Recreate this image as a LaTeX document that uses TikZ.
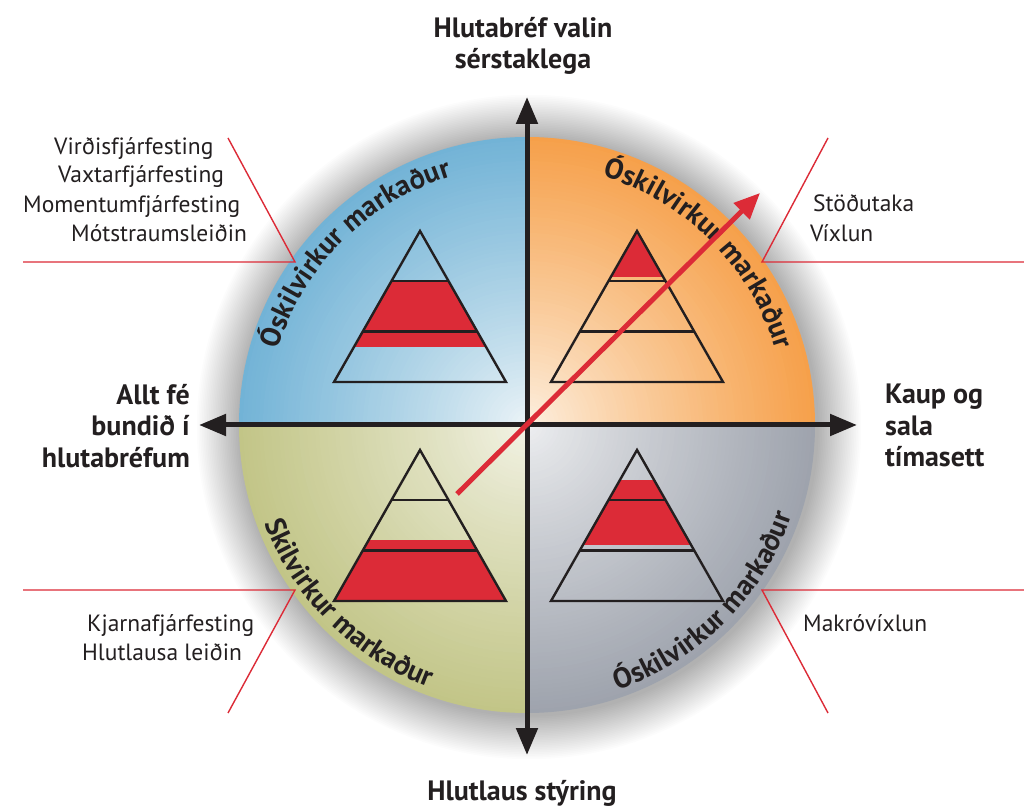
\documentclass[tikz,border=0pt]{standalone}
\usepackage{fontspec}
\setmainfont{PT Sans}
\usetikzlibrary{arrows.meta,decorations.text,calc}

\definecolor{inkdark}{HTML}{231F20}
\definecolor{markred}{HTML}{DC2B37}
\definecolor{blueout}{HTML}{72B3D6}
\definecolor{bluein}{HTML}{EEF5F8}
\definecolor{orangeout}{HTML}{F6A04A}
\definecolor{orangein}{HTML}{FDF2E4}
\definecolor{oliveout}{HTML}{C2C587}
\definecolor{olivein}{HTML}{F4F4E8}
\definecolor{greyout}{HTML}{9EA3AD}
\definecolor{greyin}{HTML}{EFF0F2}

\newcommand{\curvefont}{\fontsize{28.5}{28.5}\selectfont\bfseries\color{inkdark}}

\tikzset{
  axisline/.style={line width=5pt, draw=inkdark,
    {Triangle[length=27pt,width=21pt]}-{Triangle[length=27pt,width=21pt]}},
  leader/.style={draw=markred, line width=1.4pt},
  heading/.style={font=\fontsize{28}{31.5}\selectfont\bfseries, text=inkdark, inner sep=0pt},
  method/.style={font=\fontsize{23.5}{28}\selectfont, text=inkdark, inner sep=0pt, anchor=base west},
  tier/.style={draw=inkdark, line width=2.4pt},
  pics/pyramid/.style n args={2}{code={
     \begin{scope}
       \clip (0,0) -- (-86,-151) -- (86,-151) -- cycle;
       \fill[markred] (-100,#1) rectangle (100,#2);
       \draw[tier] (-100,-50.3) -- (100,-50.3);
       \draw[tier] (-100,-100.7) -- (100,-100.7);
     \end{scope}
     \draw[tier, line join=miter] (0,0) -- (-86,-151) -- (86,-151) -- cycle;
  }},
  arctext/.style={decorate, decoration={text along path, text align=center, text={|\curvefont|#1}}}
}

\begin{document}
\begin{tikzpicture}[x=1pt,y=1pt]
\useasboundingbox (0,0) rectangle (1024,811);
\fill[white] (0,0) rectangle (1024,811);
\coordinate (C) at (527,386);

% soft shadow around the disc
\foreach \k in {1,...,26}
  \fill[black, opacity=0.011] ($(C)+(2,-2)$) circle ({288+1.7*\k});

% four quadrants, each a radial colour ramp
\foreach \qa/\qout/\qin in {0/orangeout/orangein, 90/blueout/bluein, 180/oliveout/olivein, 270/greyout/greyin} {
  \pgfmathsetmacro{\qb}{\qa+90}
  \begin{scope}
    \clip (C) -- ++(\qa:300) arc[start angle=\qa, end angle=\qb, radius=300] -- cycle;
    \foreach \i in {0,...,71} {
      \pgfmathsetmacro{\rr}{288*(1-\i/72)}
      \pgfmathtruncatemacro{\pp}{100*(1-\i/72)^0.85}
      \fill[\qout!\pp!\qin] (C) circle (\rr);
    }
  \end{scope}
}

% market labels along the rim
\path[arctext={Óskilvirkur markaður}] ($(C)+(175:260)$) arc[start angle=175, end angle=95, radius=260];
\path[arctext={Óskilvirkur markaður}] ($(C)+(85:260)$) arc[start angle=85, end angle=5, radius=260];
\path[arctext={Skilvirkur markaður}] ($(C)+(185:280)$) arc[start angle=185, end angle=265, radius=280];
\path[arctext={Óskilvirkur markaður}] ($(C)+(-85:280)$) arc[start angle=-85, end angle=-5, radius=280];

% allocation pyramids
\pic at (420,580) {pyramid={-51}{-116}};
\pic at (637,580) {pyramid={5}{-46}};
\pic at (420,361) {pyramid={-90}{-160}};
\pic at (637,361) {pyramid={-30}{-95}};

% axes
\coordinate (axL) at (199,386);
\coordinate (axR) at (857,386);
\coordinate (axT) at (527,714);
\coordinate (axB) at (527,56);
\draw[axisline] (axL) -- (axR);
\draw[axisline] (axB) -- (axT);

% axis captions
\node[heading, align=center, anchor=north] (capT) at (523,794) {Hlutabréf valin\\sérstaklega};
\node[heading, anchor=base] (capB) at (522,11) {Hlutlaus stýring};
\node[heading, align=right, anchor=north east] (capL) at (190,427) {Allt fé\\bundið í\\hlutabréfum};
\node[heading, align=left, anchor=north west] (capR) at (885,427) {Kaup og\\sala\\tímasett};

% leader lines
\coordinate (tlA) at (228,673); \coordinate (tlB) at (295,549); \coordinate (tlC) at (23,549);
\coordinate (trA) at (828,673); \coordinate (trB) at (762,549); \coordinate (trC) at (1024,549);
\coordinate (blA) at (23,221);  \coordinate (blB) at (295,221); \coordinate (blC) at (228,98);
\coordinate (brA) at (1024,221); \coordinate (brB) at (762,221); \coordinate (brC) at (828,98);
\draw[leader] (tlA) -- (tlB) -- (tlC);
\draw[leader] (trA) -- (trB) -- (trC);
\draw[leader] (blA) -- (blB) -- (blC);
\draw[leader] (brA) -- (brB) -- (brC);

% strategy names
\node[method] (m1) at (54,656) {Virðisfjárfesting};
\node[method] (m2) at (58,628) {Vaxtarfjárfesting};
\node[method] (m3) at (23,598) {Momentumfjárfesting};
\node[method] (m4) at (71,569) {Mótstraumsleiðin};
\node[method] (m5) at (813,599) {Stöðutaka};
\node[method] (m6) at (810,569) {Víxlun};
\node[method] (m7) at (87,179) {Kjarnafjárfesting};
\node[method] (m8) at (82,151) {Hlutlausa leiðin};
\node[method] (m9) at (803,180) {Makróvíxlun};

% direction arrow
\coordinate (rs) at (457,317);
\coordinate (re) at (760,618);
\draw[markred, line width=5pt, -{Triangle[length=26pt,width=22pt]}] (rs) -- (re);
\end{tikzpicture}
\end{document}
